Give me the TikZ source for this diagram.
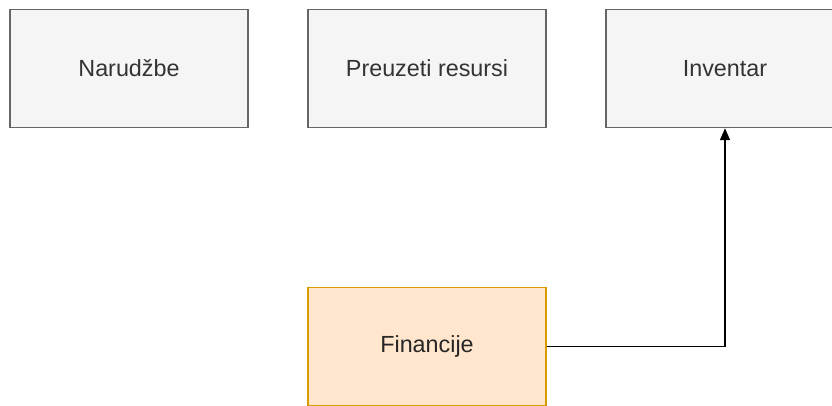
\documentclass[tikz,border=0pt]{standalone}
\usepackage{fontspec}
\setmainfont{Liberation Sans}
\usetikzlibrary{positioning}
\usetikzlibrary{arrows.meta}
\definecolor{boxfill}{HTML}{F5F5F5}
\definecolor{boxline}{HTML}{666666}
\definecolor{finfill}{HTML}{FFE6CC}
\definecolor{finline}{HTML}{D79B00}
\definecolor{txt}{HTML}{333333}
\tikzset{
    mybox/.style = {rectangle, draw=boxline, fill=boxfill, line width=1.1pt, minimum width=178.5pt, minimum height=88.5pt, text=txt, font=\fontsize{17.5}{20}\selectfont},
    myboxo/.style = {mybox, draw=finline, fill=finfill, text=black!85},
    edgen/.style = {-{Triangle[length=9pt,width=7.5pt]}, line width=1.1pt, black}
}
\begin{document}
\begin{tikzpicture}[x=0.75pt,y=-0.75pt]
%
\clip (0,0) rectangle (832,405);
%
\node[mybox] at (129,68.5) (nar) {Narudžbe};
\node[mybox] at (427,68.5) (pre) {Preuzeti resursi};
\node[mybox] at (725,68.5) (inv) {Inventar};
\node[myboxo] at (427,346.5) (fin) {Financije};
%
\draw[edgen] (fin.east) -| (inv.south);

\end{tikzpicture}
\end{document}
